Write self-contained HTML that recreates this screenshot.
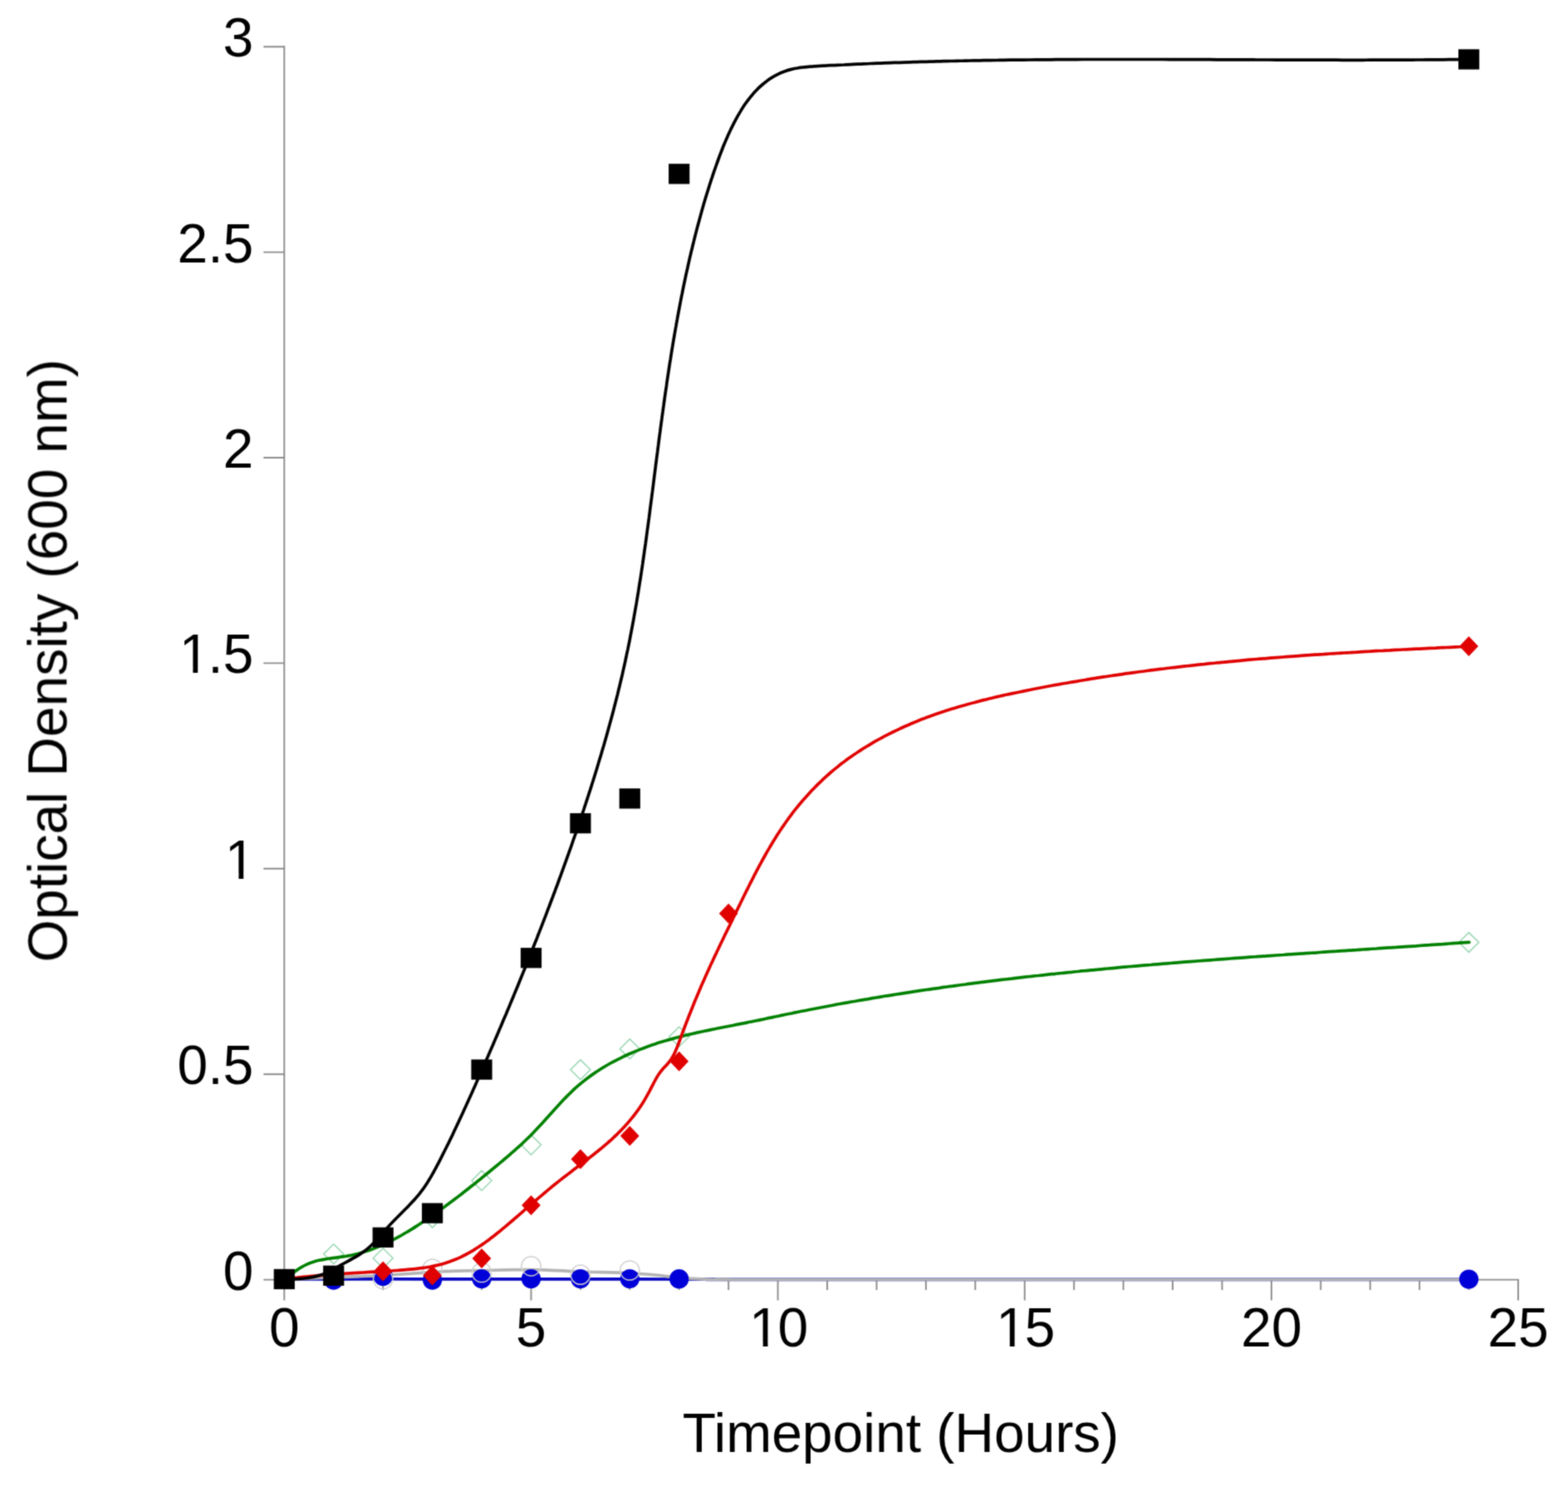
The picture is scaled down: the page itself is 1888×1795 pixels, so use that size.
<!DOCTYPE html>
<html lang="en">
<head>
<meta charset="utf-8">
<title>Optical Density vs Timepoint</title>
<style>
html,body{margin:0;padding:0;background:#fff;}
body{width:1888px;height:1795px;overflow:hidden;}
svg{display:block;}
text{font-family:"Liberation Sans",Arial,Helvetica,sans-serif;fill:#000;}
.tick{font-size:66px;}
.title{font-size:66px;}
.ax{stroke:#8a8a8a;stroke-width:1.9;fill:none;}
.ln{fill:none;stroke-width:3.7;stroke-linecap:round;stroke-linejoin:round;}
</style>
</head>
<body>
<svg xmlns="http://www.w3.org/2000/svg" width="1888" height="1795" viewBox="0 0 1888 1795">
<rect x="0" y="0" width="1888" height="1795" fill="#ffffff"/>
<defs><filter id="b" x="0" y="0" width="1888" height="1795" filterUnits="userSpaceOnUse" color-interpolation-filters="sRGB"><feConvolveMatrix order="3" kernelMatrix="0.0400 0.1200 0.0400 0.1200 0.3600 0.1200 0.0400 0.1200 0.0400" divisor="1" edgeMode="duplicate" preserveAlpha="false"/></filter></defs>
<g filter="url(#b)">
<g class="ax">
<path d="M342.3,55.2 V1565.6"/>
<path d="M317.3,1540.6 H1829.0"/>
<path d="M317.3,1293.2 H342.3 M317.3,1045.8 H342.3 M317.3,798.4 H342.3 M317.3,551.0 H342.3 M317.3,303.6 H342.3 M317.3,56.2 H342.3"/>
<path d="M401.7,1540.6 V1553.1 M461.2,1540.6 V1553.1 M520.6,1540.6 V1553.1 M580.0,1540.6 V1553.1 M639.5,1540.6 V1565.6 M698.9,1540.6 V1553.1 M758.3,1540.6 V1553.1 M817.7,1540.6 V1553.1 M877.2,1540.6 V1553.1 M936.6,1540.6 V1565.6 M996.0,1540.6 V1553.1 M1055.5,1540.6 V1553.1 M1114.9,1540.6 V1553.1 M1174.3,1540.6 V1553.1 M1233.8,1540.6 V1565.6 M1293.2,1540.6 V1553.1 M1352.6,1540.6 V1553.1 M1412.0,1540.6 V1553.1 M1471.5,1540.6 V1553.1 M1530.9,1540.6 V1565.6 M1590.3,1540.6 V1553.1 M1649.8,1540.6 V1553.1 M1709.2,1540.6 V1553.1 M1768.6,1540.6 V1553.1 M1828.0,1540.6 V1565.6"/>
</g>
<g>
<path class="ln" stroke="#0808c8" stroke-width="3.9" d="M342.3,1540.2 C362.0,1540.1 381.7,1539.8 401.4,1539.8 C540.1,1539.7 678.8,1539.9 817.5,1540.0 C831.7,1540.0 845.8,1540.1 860.0,1540.2"/>
</g>
<g>
<path class="ln" stroke="#0808c8" stroke-width="2.2" d="M850.0,1540.3 C966.7,1540.3 1083.3,1540.3 1200.0,1540.3 C1389.7,1540.3 1579.3,1540.3 1769.0,1540.3"/>
</g>
<g>
<path class="ln" stroke="#b4b4b4" stroke-width="3.4" d="M342.3,1540.3 C362.0,1539.5 381.7,1538.6 401.4,1537.8 C410.9,1537.4 420.5,1537.2 430.0,1536.8 C440.5,1536.4 451.1,1536.1 461.6,1535.5 C481.4,1534.3 501.2,1532.7 521.0,1531.5 C530.7,1530.9 540.3,1530.5 550.0,1530.2 C560.2,1529.9 570.4,1529.7 580.6,1529.5 C593.7,1529.2 606.9,1528.8 620.0,1528.7 C631.7,1528.6 643.3,1528.5 655.0,1528.8 C669.7,1529.2 684.3,1530.5 699.0,1531.0 C718.7,1531.7 738.4,1531.7 758.1,1532.6 C768.8,1533.1 779.4,1534.0 790.0,1535.0 C799.2,1535.9 808.3,1537.5 817.5,1538.3 C828.3,1539.2 839.2,1539.8 850.0,1540.2 C860.0,1540.6 870.0,1540.4 880.0,1540.5"/>
</g>
<g>
<path class="ln" stroke="#b0b0b0" stroke-width="4.0" d="M870.0,1540.5 C980.0,1540.5 1090.0,1540.5 1200.0,1540.5 C1389.7,1540.5 1579.3,1540.5 1769.0,1540.5"/>
</g>
<g>
<circle cx="401.7" cy="1541.0" r="11.6" fill="#0000d8"/>
<circle cx="461.2" cy="1536.5" r="11.6" fill="#0000d8"/>
<circle cx="520.6" cy="1541.0" r="11.6" fill="#0000d8"/>
<circle cx="580.0" cy="1539.5" r="11.6" fill="#0000d8"/>
<circle cx="639.5" cy="1539.5" r="11.6" fill="#0000d8"/>
<circle cx="698.9" cy="1539.5" r="11.6" fill="#0000d8"/>
<circle cx="758.3" cy="1539.5" r="11.6" fill="#0000d8"/>
<circle cx="817.7" cy="1539.7" r="11.6" fill="#0000d8"/>
<circle cx="1768.6" cy="1540.0" r="11.6" fill="#0000d8"/>
</g>
<g>
<circle cx="461.2" cy="1540.0" r="11.6" fill="none" stroke="#cfcfcf" stroke-width="1.5"/>
<circle cx="520.6" cy="1527.7" r="11.6" fill="none" stroke="#cfcfcf" stroke-width="1.5"/>
<circle cx="580.0" cy="1532.0" r="11.6" fill="none" stroke="#cfcfcf" stroke-width="1.5"/>
<circle cx="639.5" cy="1524.3" r="11.6" fill="none" stroke="#cfcfcf" stroke-width="1.5"/>
<circle cx="698.9" cy="1534.7" r="11.6" fill="none" stroke="#cfcfcf" stroke-width="1.5"/>
<circle cx="758.3" cy="1529.5" r="11.6" fill="none" stroke="#cfcfcf" stroke-width="1.5"/>
</g>
<g>
<path d="M401.7,1497.7 L413.7,1509.6 L401.7,1521.5 L389.7,1509.6 Z" fill="none" stroke="#98d6b2" stroke-width="1.5"/>
<path d="M461.2,1502.8 L473.2,1514.7 L461.2,1526.6 L449.2,1514.7 Z" fill="none" stroke="#98d6b2" stroke-width="1.5"/>
<path d="M520.6,1454.1 L532.6,1466.0 L520.6,1477.9 L508.6,1466.0 Z" fill="none" stroke="#98d6b2" stroke-width="1.5"/>
<path d="M580.0,1409.4 L592.0,1421.3 L580.0,1433.2 L568.0,1421.3 Z" fill="none" stroke="#98d6b2" stroke-width="1.5"/>
<path d="M639.5,1366.4 L651.5,1378.3 L639.5,1390.2 L627.5,1378.3 Z" fill="none" stroke="#98d6b2" stroke-width="1.5"/>
<path d="M698.9,1275.9 L710.9,1287.8 L698.9,1299.7 L686.9,1287.8 Z" fill="none" stroke="#98d6b2" stroke-width="1.5"/>
<path d="M758.3,1250.9 L770.3,1262.8 L758.3,1274.7 L746.3,1262.8 Z" fill="none" stroke="#98d6b2" stroke-width="1.5"/>
<path d="M817.7,1236.2 L829.7,1248.1 L817.7,1260.0 L805.7,1248.1 Z" fill="none" stroke="#98d6b2" stroke-width="1.5"/>
<path d="M1768.6,1122.6 L1780.6,1134.5 L1768.6,1146.4 L1756.6,1134.5 Z" fill="none" stroke="#98d6b2" stroke-width="1.5"/>
</g>
<g>
<path class="ln" stroke="#008000" stroke-width="3.7" d="M342.3,1540.0 C344.5,1538.4 346.6,1536.9 348.8,1535.3 C350.9,1533.7 353.1,1532.1 355.3,1530.6 C357.5,1529.1 359.7,1527.5 362.0,1526.2 C364.3,1524.8 366.6,1523.5 369.0,1522.4 C371.4,1521.3 373.9,1520.3 376.4,1519.5 C378.9,1518.6 381.4,1517.9 384.0,1517.3 C386.6,1516.7 389.2,1516.2 391.9,1515.8 C394.5,1515.3 397.2,1515.0 399.8,1514.6 C402.5,1514.3 405.1,1514.0 407.8,1513.6 C410.5,1513.3 413.1,1512.9 415.8,1512.5 C418.4,1512.1 421.0,1511.6 423.6,1511.1 C426.2,1510.5 428.8,1509.9 431.4,1509.2 C433.9,1508.6 436.5,1507.8 439.0,1507.0 C441.5,1506.2 444.1,1505.4 446.5,1504.5 C449.0,1503.6 451.5,1502.6 454.0,1501.6 C456.4,1500.6 458.9,1499.5 461.3,1498.4 C463.7,1497.4 466.1,1496.2 468.5,1495.0 C470.9,1493.9 473.3,1492.6 475.6,1491.4 C478.0,1490.1 480.4,1488.8 482.7,1487.5 C485.0,1486.2 487.3,1484.8 489.6,1483.5 C491.9,1482.1 494.2,1480.7 496.5,1479.3 C498.8,1477.9 501.1,1476.4 503.3,1475.0 C505.6,1473.5 507.8,1472.0 510.0,1470.5 C512.3,1469.0 514.5,1467.5 516.7,1466.0 C518.9,1464.5 521.1,1463.0 523.3,1461.4 C525.5,1459.9 527.7,1458.4 529.8,1456.8 C532.0,1455.3 534.2,1453.7 536.3,1452.1 C538.5,1450.5 540.6,1448.9 542.7,1447.3 C544.9,1445.8 547.0,1444.1 549.1,1442.5 C551.2,1440.9 553.3,1439.3 555.4,1437.7 C557.6,1436.0 559.7,1434.4 561.7,1432.8 C563.8,1431.1 565.9,1429.5 568.0,1427.8 C570.1,1426.2 572.2,1424.5 574.2,1422.8 C576.3,1421.2 578.4,1419.5 580.4,1417.8 C582.5,1416.2 584.5,1414.5 586.6,1412.8 C588.7,1411.1 590.7,1409.4 592.8,1407.7 C594.8,1406.0 596.8,1404.4 598.9,1402.7 C600.9,1401.0 603.0,1399.3 605.0,1397.6 C607.0,1395.8 609.1,1394.1 611.1,1392.4 C613.1,1390.7 615.1,1388.9 617.1,1387.2 C619.1,1385.4 621.1,1383.7 623.1,1381.9 C625.0,1380.1 627.0,1378.3 629.0,1376.5 C630.9,1374.7 632.8,1372.9 634.7,1371.0 C636.7,1369.1 638.6,1367.3 640.4,1365.4 C642.3,1363.4 644.2,1361.5 646.0,1359.6 C647.8,1357.6 649.7,1355.6 651.5,1353.7 C653.3,1351.7 655.1,1349.7 656.9,1347.7 C658.7,1345.7 660.5,1343.7 662.3,1341.7 C664.1,1339.7 665.9,1337.7 667.7,1335.7 C669.5,1333.7 671.3,1331.7 673.2,1329.7 C675.0,1327.7 676.8,1325.8 678.7,1323.8 C680.5,1321.9 682.4,1320.0 684.3,1318.1 C686.2,1316.2 688.1,1314.4 690.0,1312.5 C692.0,1310.7 694.0,1308.9 696.0,1307.2 C698.0,1305.5 700.0,1303.7 702.1,1302.1 C704.1,1300.4 706.2,1298.8 708.4,1297.2 C710.5,1295.6 712.6,1294.1 714.8,1292.6 C717.0,1291.1 719.2,1289.6 721.4,1288.2 C723.7,1286.7 725.9,1285.4 728.2,1284.0 C730.5,1282.6 732.8,1281.3 735.1,1280.0 C737.5,1278.7 739.8,1277.5 742.2,1276.3 C744.6,1275.0 746.9,1273.9 749.4,1272.7 C751.8,1271.5 754.2,1270.4 756.6,1269.3 C759.1,1268.2 761.5,1267.2 764.0,1266.1 C766.5,1265.1 768.9,1264.1 771.4,1263.1 C773.9,1262.2 776.4,1261.2 779.0,1260.3 C781.5,1259.4 784.0,1258.5 786.6,1257.6 C789.1,1256.8 791.6,1255.9 794.2,1255.1 C796.7,1254.3 799.3,1253.5 801.9,1252.8 C804.4,1252.0 807.0,1251.3 809.6,1250.6 C812.2,1249.9 814.7,1249.2 817.3,1248.5 C819.9,1247.8 822.5,1247.2 825.1,1246.5 C827.7,1245.9 830.2,1245.3 832.8,1244.7 C835.4,1244.1 838.0,1243.5 840.6,1242.9 C843.2,1242.4 845.8,1241.8 848.4,1241.2 C851.0,1240.7 853.6,1240.2 856.2,1239.6 C858.8,1239.1 861.4,1238.6 864.1,1238.0 C866.7,1237.5 869.3,1237.0 871.9,1236.5 C874.5,1236.0 877.1,1235.5 879.7,1235.0 C882.3,1234.5 884.9,1233.9 887.5,1233.4 C890.2,1232.9 892.8,1232.4 895.4,1231.9 C898.0,1231.4 900.6,1230.8 903.2,1230.3 C905.8,1229.8 908.4,1229.2 911.0,1228.7 C913.7,1228.2 916.3,1227.6 918.9,1227.1 C921.5,1226.5 924.1,1226.0 926.7,1225.4 C929.3,1224.9 931.9,1224.3 934.5,1223.8 C937.1,1223.2 939.8,1222.7 942.4,1222.1 C945.0,1221.6 947.6,1221.0 950.2,1220.5 C952.8,1220.0 955.4,1219.4 958.0,1218.9 C960.7,1218.4 963.3,1217.8 965.9,1217.3 C968.5,1216.8 971.1,1216.3 973.7,1215.7 C976.3,1215.2 979.0,1214.7 981.6,1214.2 C984.2,1213.7 986.8,1213.2 989.4,1212.7 C992.1,1212.2 994.7,1211.7 997.3,1211.2 C999.9,1210.7 1002.5,1210.2 1005.2,1209.7 C1007.8,1209.3 1010.4,1208.8 1013.0,1208.3 C1015.6,1207.8 1018.3,1207.3 1020.9,1206.9 C1023.5,1206.4 1026.1,1205.9 1028.8,1205.5 C1031.4,1205.0 1034.0,1204.6 1036.6,1204.1 C1039.3,1203.7 1041.9,1203.2 1044.5,1202.8 C1047.1,1202.3 1049.8,1201.9 1052.4,1201.4 C1055.0,1201.0 1057.7,1200.6 1060.3,1200.1 C1062.9,1199.7 1065.5,1199.3 1068.2,1198.8 C1070.8,1198.4 1073.4,1198.0 1076.1,1197.6 C1078.7,1197.2 1081.3,1196.7 1084.0,1196.3 C1086.6,1195.9 1089.2,1195.5 1091.9,1195.1 C1094.5,1194.7 1097.1,1194.3 1099.8,1193.9 C1102.4,1193.5 1105.0,1193.1 1107.7,1192.7 C1110.3,1192.3 1112.9,1191.9 1115.6,1191.5 C1118.2,1191.2 1120.9,1190.8 1123.5,1190.4 C1126.1,1190.0 1128.8,1189.6 1131.4,1189.3 C1134.1,1188.9 1136.7,1188.5 1139.3,1188.2 C1142.0,1187.8 1144.6,1187.4 1147.2,1187.1 C1149.9,1186.7 1152.5,1186.4 1155.2,1186.0 C1157.8,1185.7 1160.5,1185.3 1163.1,1185.0 C1165.7,1184.6 1168.4,1184.3 1171.0,1183.9 C1173.7,1183.6 1176.3,1183.2 1179.0,1182.9 C1181.6,1182.6 1184.2,1182.2 1186.9,1181.9 C1189.5,1181.6 1192.2,1181.2 1194.8,1180.9 C1197.5,1180.6 1200.1,1180.3 1202.8,1179.9 C1205.4,1179.6 1208.1,1179.3 1210.7,1179.0 C1213.4,1178.7 1216.0,1178.4 1218.6,1178.1 C1221.3,1177.7 1223.9,1177.4 1226.6,1177.1 C1229.2,1176.8 1231.9,1176.5 1234.5,1176.2 C1237.2,1175.9 1239.8,1175.6 1242.5,1175.3 C1245.1,1175.0 1247.8,1174.7 1250.4,1174.5 C1253.1,1174.2 1255.7,1173.9 1258.4,1173.6 C1261.0,1173.3 1263.7,1173.0 1266.3,1172.7 C1269.0,1172.5 1271.6,1172.2 1274.3,1171.9 C1277.0,1171.6 1279.6,1171.4 1282.3,1171.1 C1284.9,1170.8 1287.6,1170.5 1290.2,1170.3 C1292.9,1170.0 1295.5,1169.7 1298.2,1169.5 C1300.8,1169.2 1303.5,1168.9 1306.1,1168.7 C1308.8,1168.4 1311.5,1168.2 1314.1,1167.9 C1316.8,1167.7 1319.4,1167.4 1322.1,1167.2 C1324.7,1166.9 1327.4,1166.7 1330.0,1166.4 C1332.7,1166.2 1335.4,1165.9 1338.0,1165.7 C1340.7,1165.4 1343.3,1165.2 1346.0,1164.9 C1348.6,1164.7 1351.3,1164.5 1354.0,1164.2 C1356.6,1164.0 1359.3,1163.8 1361.9,1163.5 C1364.6,1163.3 1367.3,1163.1 1369.9,1162.8 C1372.6,1162.6 1375.2,1162.4 1377.9,1162.1 C1380.5,1161.9 1383.2,1161.7 1385.9,1161.5 C1388.5,1161.2 1391.2,1161.0 1393.8,1160.8 C1396.5,1160.6 1399.2,1160.4 1401.8,1160.1 C1404.5,1159.9 1407.1,1159.7 1409.8,1159.5 C1412.5,1159.3 1415.1,1159.1 1417.8,1158.8 C1420.4,1158.6 1423.1,1158.4 1425.8,1158.2 C1428.4,1158.0 1431.1,1157.8 1433.7,1157.6 C1436.4,1157.4 1439.1,1157.2 1441.7,1157.0 C1444.4,1156.8 1447.1,1156.6 1449.7,1156.4 C1452.4,1156.2 1455.0,1156.0 1457.7,1155.8 C1460.4,1155.6 1463.0,1155.4 1465.7,1155.2 C1468.3,1155.0 1471.0,1154.8 1473.7,1154.6 C1476.3,1154.4 1479.0,1154.2 1481.7,1154.0 C1484.3,1153.8 1487.0,1153.6 1489.6,1153.4 C1492.3,1153.2 1495.0,1153.0 1497.6,1152.8 C1500.3,1152.6 1503.0,1152.4 1505.6,1152.2 C1508.3,1152.1 1510.9,1151.9 1513.6,1151.7 C1516.3,1151.5 1518.9,1151.3 1521.6,1151.1 C1524.3,1150.9 1526.9,1150.8 1529.6,1150.6 C1532.2,1150.4 1534.9,1150.2 1537.6,1150.0 C1540.2,1149.8 1542.9,1149.6 1545.6,1149.5 C1548.2,1149.3 1550.9,1149.1 1553.5,1148.9 C1556.2,1148.7 1558.9,1148.6 1561.5,1148.4 C1564.2,1148.2 1566.9,1148.0 1569.5,1147.8 C1572.2,1147.7 1574.8,1147.5 1577.5,1147.3 C1580.2,1147.1 1582.8,1146.9 1585.5,1146.8 C1588.2,1146.6 1590.8,1146.4 1593.5,1146.2 C1596.1,1146.0 1598.8,1145.9 1601.5,1145.7 C1604.1,1145.5 1606.8,1145.3 1609.5,1145.2 C1612.1,1145.0 1614.8,1144.8 1617.4,1144.6 C1620.1,1144.4 1622.8,1144.3 1625.4,1144.1 C1628.1,1143.9 1630.7,1143.7 1633.4,1143.6 C1636.1,1143.4 1638.7,1143.2 1641.4,1143.0 C1644.1,1142.9 1646.7,1142.7 1649.4,1142.5 C1652.0,1142.3 1654.7,1142.1 1657.4,1142.0 C1660.0,1141.8 1662.7,1141.6 1665.3,1141.4 C1668.0,1141.3 1670.7,1141.1 1673.3,1140.9 C1676.0,1140.7 1678.6,1140.5 1681.3,1140.4 C1684.0,1140.2 1686.6,1140.0 1689.3,1139.8 C1691.9,1139.7 1694.6,1139.5 1697.3,1139.3 C1699.9,1139.1 1702.6,1138.9 1705.2,1138.8 C1707.9,1138.6 1710.5,1138.4 1713.2,1138.2 C1715.9,1138.0 1718.5,1137.8 1721.2,1137.7 C1723.8,1137.5 1726.5,1137.3 1729.2,1137.1 C1731.8,1136.9 1734.5,1136.7 1737.1,1136.6 C1739.8,1136.4 1742.4,1136.2 1745.1,1136.0 C1747.8,1135.8 1750.4,1135.6 1753.1,1135.4 C1755.7,1135.2 1758.4,1135.1 1761.0,1134.9 C1763.7,1134.7 1766.3,1134.5 1769.0,1134.3"/>
</g>
<g>
<path d="M461.2,1518.4 L472.6,1530.4 L461.2,1542.4 L449.8,1530.4 Z" fill="#e00000"/>
<path d="M520.6,1523.5 L532.0,1535.5 L520.6,1547.5 L509.2,1535.5 Z" fill="#e00000"/>
<path d="M580.0,1503.1 L591.4,1515.1 L580.0,1527.1 L568.6,1515.1 Z" fill="#e00000"/>
<path d="M639.5,1439.1 L650.9,1451.1 L639.5,1463.1 L628.1,1451.1 Z" fill="#e00000"/>
<path d="M698.9,1383.5 L710.3,1395.5 L698.9,1407.5 L687.5,1395.5 Z" fill="#e00000"/>
<path d="M758.3,1355.5 L769.7,1367.5 L758.3,1379.5 L746.9,1367.5 Z" fill="#e00000"/>
<path d="M817.7,1265.7 L829.1,1277.7 L817.7,1289.7 L806.3,1277.7 Z" fill="#e00000"/>
<path d="M877.2,1087.7 L888.6,1099.7 L877.2,1111.7 L865.8,1099.7 Z" fill="#e00000"/>
<path d="M1768.6,766.0 L1780.0,778.0 L1768.6,790.0 L1757.2,778.0 Z" fill="#e00000"/>
</g>
<g>
<path class="ln" stroke="#e00000" stroke-width="3.7" d="M342.3,1540.0 C345.0,1539.7 347.7,1539.3 350.4,1539.0 C353.1,1538.6 355.7,1538.3 358.4,1538.0 C361.1,1537.7 363.7,1537.5 366.4,1537.2 C369.1,1536.9 371.7,1536.7 374.4,1536.4 C377.0,1536.2 379.7,1535.9 382.3,1535.7 C384.9,1535.5 387.6,1535.2 390.2,1535.0 C392.9,1534.8 395.5,1534.6 398.1,1534.4 C400.8,1534.2 403.4,1534.0 406.0,1533.9 C408.7,1533.7 411.3,1533.5 413.9,1533.3 C416.6,1533.2 419.2,1533.0 421.8,1532.8 C424.5,1532.7 427.1,1532.5 429.7,1532.3 C432.4,1532.2 435.0,1532.0 437.7,1531.9 C440.3,1531.7 443.0,1531.6 445.6,1531.4 C448.3,1531.3 450.9,1531.1 453.6,1531.0 C456.2,1530.8 458.9,1530.6 461.6,1530.5 C464.2,1530.3 466.9,1530.2 469.6,1530.0 C472.3,1529.8 475.0,1529.7 477.7,1529.5 C480.4,1529.3 483.1,1529.1 485.8,1528.9 C488.5,1528.7 491.2,1528.5 493.9,1528.2 C496.6,1528.0 499.3,1527.7 502.0,1527.4 C504.7,1527.1 507.3,1526.7 510.0,1526.3 C512.7,1526.0 515.3,1525.5 517.9,1525.1 C520.6,1524.6 523.2,1524.0 525.8,1523.4 C528.4,1522.9 530.9,1522.2 533.5,1521.5 C536.0,1520.8 538.5,1520.0 541.0,1519.1 C543.5,1518.2 545.9,1517.3 548.3,1516.3 C550.8,1515.3 553.2,1514.2 555.5,1513.1 C557.9,1511.9 560.2,1510.7 562.5,1509.5 C564.8,1508.2 567.1,1506.9 569.4,1505.6 C571.6,1504.2 573.9,1502.8 576.1,1501.3 C578.3,1499.9 580.5,1498.4 582.7,1496.9 C584.8,1495.3 587.0,1493.8 589.1,1492.2 C591.3,1490.6 593.4,1488.9 595.5,1487.3 C597.6,1485.6 599.7,1483.9 601.8,1482.3 C603.9,1480.6 605.9,1478.8 608.0,1477.1 C610.1,1475.4 612.1,1473.7 614.1,1471.9 C616.2,1470.2 618.2,1468.4 620.2,1466.7 C622.3,1464.9 624.3,1463.2 626.3,1461.4 C628.3,1459.7 630.3,1457.9 632.3,1456.2 C634.3,1454.5 636.3,1452.7 638.4,1451.0 C640.4,1449.2 642.4,1447.5 644.4,1445.8 C646.4,1444.0 648.4,1442.3 650.4,1440.6 C652.4,1438.9 654.5,1437.2 656.5,1435.5 C658.5,1433.7 660.6,1432.1 662.6,1430.4 C664.6,1428.7 666.7,1427.0 668.8,1425.3 C670.8,1423.7 672.9,1422.0 675.0,1420.4 C677.1,1418.7 679.2,1417.1 681.3,1415.5 C683.4,1413.9 685.5,1412.3 687.6,1410.7 C689.7,1409.0 691.8,1407.4 694.0,1405.8 C696.1,1404.2 698.2,1402.6 700.3,1401.0 C702.5,1399.4 704.6,1397.8 706.7,1396.2 C708.8,1394.5 710.9,1392.9 713.0,1391.3 C715.1,1389.6 717.2,1388.0 719.3,1386.3 C721.3,1384.6 723.4,1383.0 725.4,1381.3 C727.5,1379.6 729.5,1377.8 731.5,1376.1 C733.5,1374.3 735.5,1372.6 737.4,1370.8 C739.4,1369.0 741.3,1367.1 743.2,1365.3 C745.1,1363.4 747.0,1361.5 748.9,1359.6 C750.7,1357.7 752.5,1355.7 754.3,1353.7 C756.1,1351.7 757.8,1349.7 759.5,1347.6 C761.2,1345.6 762.9,1343.5 764.5,1341.3 C766.1,1339.2 767.7,1337.0 769.3,1334.8 C770.8,1332.7 772.3,1330.4 773.7,1328.2 C775.1,1325.9 776.5,1323.6 777.8,1321.3 C779.2,1319.0 780.4,1316.7 781.7,1314.3 C783.0,1312.0 784.2,1309.6 785.4,1307.2 C786.7,1304.8 787.8,1302.4 789.1,1300.1 C790.4,1297.7 791.7,1295.4 793.2,1293.2 C794.7,1291.1 796.3,1289.0 798.0,1287.0 C799.7,1285.0 801.7,1283.3 803.4,1281.3 C805.1,1279.3 806.7,1277.3 808.2,1275.1 C809.6,1272.9 810.8,1270.6 812.0,1268.3 C813.2,1265.9 814.2,1263.5 815.2,1261.0 C816.3,1258.5 817.2,1256.0 818.1,1253.5 C819.1,1250.9 820.0,1248.4 820.9,1245.9 C821.8,1243.3 822.8,1240.8 823.7,1238.3 C824.7,1235.8 825.6,1233.2 826.6,1230.7 C827.6,1228.2 828.6,1225.7 829.5,1223.2 C830.5,1220.7 831.5,1218.2 832.5,1215.7 C833.5,1213.2 834.5,1210.7 835.5,1208.2 C836.5,1205.8 837.5,1203.3 838.6,1200.8 C839.6,1198.3 840.6,1195.9 841.7,1193.4 C842.7,1191.0 843.8,1188.5 844.8,1186.0 C845.9,1183.6 847.0,1181.2 848.1,1178.7 C849.1,1176.3 850.2,1173.9 851.3,1171.4 C852.4,1169.0 853.5,1166.6 854.6,1164.2 C855.7,1161.7 856.9,1159.3 858.0,1156.9 C859.1,1154.5 860.2,1152.1 861.4,1149.7 C862.5,1147.3 863.6,1144.9 864.8,1142.5 C865.9,1140.1 867.1,1137.7 868.2,1135.3 C869.4,1132.9 870.5,1130.5 871.7,1128.1 C872.8,1125.7 874.0,1123.3 875.2,1120.9 C876.3,1118.5 877.5,1116.2 878.7,1113.8 C879.8,1111.4 881.0,1109.0 882.2,1106.6 C883.3,1104.2 884.5,1101.8 885.7,1099.4 C886.8,1097.0 888.0,1094.6 889.2,1092.2 C890.4,1089.8 891.5,1087.4 892.7,1085.0 C893.9,1082.6 895.1,1080.2 896.2,1077.8 C897.4,1075.4 898.6,1073.0 899.8,1070.6 C901.0,1068.2 902.2,1065.8 903.4,1063.4 C904.6,1061.1 905.8,1058.7 907.0,1056.3 C908.2,1053.9 909.5,1051.5 910.7,1049.2 C911.9,1046.8 913.2,1044.4 914.4,1042.1 C915.7,1039.7 917.0,1037.4 918.3,1035.0 C919.6,1032.7 920.9,1030.4 922.2,1028.0 C923.5,1025.7 924.8,1023.4 926.2,1021.1 C927.5,1018.8 928.9,1016.5 930.3,1014.2 C931.6,1011.9 933.0,1009.7 934.5,1007.4 C935.9,1005.2 937.3,1002.9 938.8,1000.7 C940.3,998.5 941.7,996.3 943.3,994.1 C944.8,991.9 946.3,989.7 947.9,987.5 C949.4,985.3 951.0,983.2 952.6,981.1 C954.2,978.9 955.8,976.8 957.5,974.7 C959.2,972.6 960.8,970.6 962.5,968.5 C964.2,966.5 966.0,964.4 967.7,962.4 C969.5,960.4 971.3,958.4 973.1,956.4 C974.9,954.5 976.7,952.5 978.5,950.6 C980.4,948.7 982.2,946.8 984.1,944.9 C986.0,943.0 988.0,941.1 989.9,939.3 C991.8,937.5 993.8,935.7 995.8,933.9 C997.8,932.1 999.8,930.4 1001.8,928.6 C1003.8,926.9 1005.9,925.2 1008.0,923.6 C1010.1,921.9 1012.1,920.2 1014.3,918.6 C1016.4,917.0 1018.5,915.4 1020.7,913.8 C1022.8,912.3 1025.0,910.7 1027.2,909.2 C1029.4,907.7 1031.6,906.2 1033.9,904.7 C1036.1,903.3 1038.3,901.8 1040.6,900.4 C1042.9,899.0 1045.1,897.6 1047.4,896.3 C1049.7,894.9 1052.0,893.5 1054.4,892.2 C1056.7,890.9 1059.0,889.6 1061.4,888.3 C1063.7,887.1 1066.1,885.8 1068.5,884.6 C1070.9,883.4 1073.3,882.2 1075.7,881.0 C1078.1,879.8 1080.5,878.7 1082.9,877.6 C1085.3,876.4 1087.8,875.3 1090.2,874.2 C1092.6,873.2 1095.1,872.1 1097.6,871.0 C1100.0,870.0 1102.5,869.0 1105.0,868.0 C1107.4,867.0 1109.9,866.0 1112.4,865.1 C1114.9,864.1 1117.4,863.2 1119.9,862.3 C1122.4,861.4 1124.9,860.5 1127.4,859.6 C1129.9,858.7 1132.5,857.9 1135.0,857.0 C1137.5,856.2 1140.0,855.4 1142.6,854.5 C1145.1,853.7 1147.7,853.0 1150.2,852.2 C1152.8,851.4 1155.3,850.7 1157.9,849.9 C1160.4,849.2 1163.0,848.5 1165.6,847.7 C1168.1,847.0 1170.7,846.3 1173.3,845.7 C1175.9,845.0 1178.5,844.3 1181.0,843.6 C1183.6,843.0 1186.2,842.3 1188.8,841.7 C1191.4,841.1 1194.0,840.4 1196.6,839.8 C1199.2,839.2 1201.8,838.6 1204.4,838.0 C1207.0,837.4 1209.6,836.9 1212.2,836.3 C1214.8,835.7 1217.4,835.2 1220.1,834.6 C1222.7,834.0 1225.3,833.5 1227.9,833.0 C1230.5,832.4 1233.1,831.9 1235.7,831.4 C1238.4,830.8 1241.0,830.3 1243.6,829.8 C1246.2,829.3 1248.8,828.8 1251.5,828.3 C1254.1,827.8 1256.7,827.3 1259.3,826.8 C1262.0,826.3 1264.6,825.8 1267.2,825.3 C1269.8,824.8 1272.5,824.3 1275.1,823.9 C1277.7,823.4 1280.3,822.9 1283.0,822.5 C1285.6,822.0 1288.2,821.6 1290.9,821.1 C1293.5,820.6 1296.1,820.2 1298.8,819.8 C1301.4,819.3 1304.0,818.9 1306.7,818.5 C1309.3,818.0 1311.9,817.6 1314.6,817.2 C1317.2,816.8 1319.8,816.3 1322.5,815.9 C1325.1,815.5 1327.7,815.1 1330.4,814.7 C1333.0,814.3 1335.6,813.9 1338.3,813.5 C1340.9,813.1 1343.6,812.7 1346.2,812.4 C1348.8,812.0 1351.5,811.6 1354.1,811.2 C1356.8,810.8 1359.4,810.5 1362.0,810.1 C1364.7,809.7 1367.3,809.4 1370.0,809.0 C1372.6,808.7 1375.3,808.3 1377.9,808.0 C1380.6,807.6 1383.2,807.3 1385.8,806.9 C1388.5,806.6 1391.1,806.3 1393.8,805.9 C1396.4,805.6 1399.1,805.3 1401.7,805.0 C1404.4,804.6 1407.0,804.3 1409.7,804.0 C1412.3,803.7 1415.0,803.4 1417.6,803.1 C1420.3,802.8 1422.9,802.5 1425.6,802.2 C1428.2,801.9 1430.9,801.6 1433.5,801.3 C1436.2,801.0 1438.8,800.7 1441.5,800.4 C1444.1,800.1 1446.8,799.8 1449.5,799.6 C1452.1,799.3 1454.8,799.0 1457.4,798.7 C1460.1,798.5 1462.7,798.2 1465.4,797.9 C1468.0,797.7 1470.7,797.4 1473.4,797.2 C1476.0,796.9 1478.7,796.7 1481.3,796.4 C1484.0,796.2 1486.6,795.9 1489.3,795.7 C1492.0,795.4 1494.6,795.2 1497.3,794.9 C1499.9,794.7 1502.6,794.5 1505.2,794.2 C1507.9,794.0 1510.6,793.8 1513.2,793.5 C1515.9,793.3 1518.5,793.1 1521.2,792.9 C1523.9,792.7 1526.5,792.4 1529.2,792.2 C1531.9,792.0 1534.5,791.8 1537.2,791.6 C1539.8,791.4 1542.5,791.2 1545.2,791.0 C1547.8,790.8 1550.5,790.6 1553.1,790.4 C1555.8,790.2 1558.5,790.0 1561.1,789.8 C1563.8,789.6 1566.5,789.4 1569.1,789.2 C1571.8,789.0 1574.5,788.8 1577.1,788.6 C1579.8,788.5 1582.4,788.3 1585.1,788.1 C1587.8,787.9 1590.4,787.7 1593.1,787.6 C1595.8,787.4 1598.4,787.2 1601.1,787.0 C1603.8,786.9 1606.4,786.7 1609.1,786.5 C1611.8,786.4 1614.4,786.2 1617.1,786.0 C1619.8,785.9 1622.4,785.7 1625.1,785.6 C1627.8,785.4 1630.4,785.2 1633.1,785.1 C1635.7,784.9 1638.4,784.8 1641.1,784.6 C1643.7,784.5 1646.4,784.3 1649.1,784.2 C1651.7,784.0 1654.4,783.9 1657.1,783.7 C1659.7,783.6 1662.4,783.4 1665.1,783.3 C1667.7,783.1 1670.4,783.0 1673.1,782.9 C1675.7,782.7 1678.4,782.6 1681.1,782.4 C1683.7,782.3 1686.4,782.2 1689.1,782.0 C1691.7,781.9 1694.4,781.8 1697.1,781.6 C1699.7,781.5 1702.4,781.4 1705.1,781.2 C1707.7,781.1 1710.4,781.0 1713.1,780.8 C1715.7,780.7 1718.4,780.6 1721.0,780.4 C1723.7,780.3 1726.4,780.2 1729.0,780.1 C1731.7,779.9 1734.4,779.8 1737.0,779.7 C1739.7,779.6 1742.4,779.4 1745.0,779.3 C1747.7,779.2 1750.4,779.1 1753.0,778.9 C1755.7,778.8 1758.3,778.7 1761.0,778.6 C1763.7,778.4 1766.3,778.3 1769.0,778.2"/>
</g>
<g>
<path class="ln" stroke="#000000" stroke-width="3.7" d="M342.3,1540.0 C345.0,1540.0 347.6,1540.0 350.3,1539.9 C353.0,1539.9 355.7,1539.8 358.4,1539.6 C361.1,1539.5 363.8,1539.3 366.4,1539.0 C369.1,1538.7 371.8,1538.3 374.4,1537.9 C377.0,1537.4 379.7,1536.8 382.2,1536.1 C384.8,1535.4 387.3,1534.6 389.8,1533.7 C392.2,1532.7 394.6,1531.6 397.0,1530.5 C399.4,1529.3 401.7,1528.0 404.0,1526.7 C406.3,1525.4 408.6,1524.1 411.0,1522.7 C413.3,1521.4 415.7,1520.1 418.0,1518.8 C420.4,1517.5 422.8,1516.2 425.1,1514.9 C427.5,1513.6 429.8,1512.2 432.1,1510.8 C434.3,1509.4 436.5,1507.9 438.7,1506.3 C440.8,1504.8 442.8,1503.1 444.8,1501.3 C446.8,1499.6 448.6,1497.7 450.5,1495.8 C452.3,1493.9 454.1,1491.9 455.9,1489.9 C457.7,1488.0 459.4,1485.9 461.2,1483.9 C462.9,1481.9 464.7,1479.9 466.5,1477.9 C468.3,1475.9 470.1,1473.9 472.0,1472.0 C473.8,1470.0 475.7,1468.1 477.6,1466.2 C479.5,1464.3 481.4,1462.4 483.3,1460.5 C485.2,1458.6 487.1,1456.7 489.0,1454.8 C490.8,1452.9 492.7,1451.0 494.5,1449.1 C496.4,1447.1 498.2,1445.2 499.9,1443.2 C501.7,1441.2 503.4,1439.2 505.1,1437.1 C506.7,1435.0 508.3,1432.9 509.9,1430.8 C511.4,1428.6 512.9,1426.4 514.3,1424.2 C515.8,1422.0 517.1,1419.7 518.5,1417.4 C519.8,1415.1 521.1,1412.8 522.4,1410.5 C523.7,1408.1 525.0,1405.8 526.2,1403.4 C527.5,1401.0 528.7,1398.7 529.9,1396.3 C531.1,1393.9 532.3,1391.5 533.5,1389.1 C534.7,1386.8 535.9,1384.4 537.1,1382.0 C538.3,1379.6 539.5,1377.2 540.7,1374.8 C541.8,1372.4 543.0,1370.0 544.2,1367.6 C545.3,1365.2 546.5,1362.8 547.6,1360.3 C548.8,1357.9 549.9,1355.5 551.0,1353.1 C552.2,1350.7 553.3,1348.3 554.4,1345.8 C555.6,1343.4 556.7,1341.0 557.8,1338.6 C558.9,1336.1 560.0,1333.7 561.1,1331.3 C562.2,1328.8 563.3,1326.4 564.4,1324.0 C565.5,1321.5 566.6,1319.1 567.7,1316.7 C568.8,1314.2 569.9,1311.8 571.0,1309.3 C572.1,1306.9 573.1,1304.5 574.2,1302.0 C575.3,1299.6 576.4,1297.1 577.5,1294.7 C578.5,1292.2 579.6,1289.8 580.7,1287.3 C581.8,1284.9 582.8,1282.5 583.9,1280.0 C585.0,1277.6 586.0,1275.1 587.1,1272.7 C588.2,1270.2 589.2,1267.8 590.3,1265.3 C591.3,1262.9 592.4,1260.4 593.5,1258.0 C594.5,1255.5 595.6,1253.1 596.6,1250.6 C597.7,1248.2 598.7,1245.7 599.8,1243.3 C600.8,1240.8 601.9,1238.4 602.9,1235.9 C604.0,1233.4 605.0,1231.0 606.0,1228.5 C607.1,1226.1 608.1,1223.6 609.2,1221.2 C610.2,1218.7 611.2,1216.2 612.3,1213.8 C613.3,1211.3 614.3,1208.9 615.3,1206.4 C616.4,1203.9 617.4,1201.5 618.4,1199.0 C619.4,1196.6 620.4,1194.1 621.5,1191.6 C622.5,1189.2 623.5,1186.7 624.5,1184.2 C625.5,1181.8 626.5,1179.3 627.5,1176.8 C628.5,1174.3 629.5,1171.9 630.5,1169.4 C631.5,1166.9 632.5,1164.5 633.5,1162.0 C634.5,1159.5 635.5,1157.0 636.5,1154.6 C637.5,1152.1 638.5,1149.6 639.5,1147.1 C640.5,1144.7 641.5,1142.2 642.4,1139.7 C643.4,1137.2 644.4,1134.7 645.4,1132.3 C646.4,1129.8 647.3,1127.3 648.3,1124.8 C649.3,1122.3 650.2,1119.8 651.2,1117.4 C652.2,1114.9 653.1,1112.4 654.1,1109.9 C655.0,1107.4 656.0,1104.9 657.0,1102.4 C657.9,1099.9 658.9,1097.4 659.8,1094.9 C660.8,1092.4 661.7,1090.0 662.6,1087.5 C663.6,1085.0 664.5,1082.5 665.5,1080.0 C666.4,1077.5 667.3,1075.0 668.3,1072.5 C669.2,1070.0 670.1,1067.5 671.1,1065.0 C672.0,1062.5 672.9,1060.0 673.8,1057.5 C674.7,1054.9 675.7,1052.4 676.6,1049.9 C677.5,1047.4 678.4,1044.9 679.3,1042.4 C680.2,1039.9 681.1,1037.4 682.0,1034.9 C682.9,1032.3 683.8,1029.8 684.7,1027.3 C685.6,1024.8 686.5,1022.3 687.4,1019.8 C688.3,1017.2 689.2,1014.7 690.0,1012.2 C690.9,1009.7 691.8,1007.2 692.7,1004.6 C693.5,1002.1 694.4,999.6 695.3,997.1 C696.1,994.5 697.0,992.0 697.9,989.5 C698.7,986.9 699.6,984.4 700.4,981.9 C701.3,979.3 702.1,976.8 703.0,974.3 C703.8,971.7 704.7,969.2 705.5,966.7 C706.3,964.1 707.2,961.6 708.0,959.0 C708.8,956.5 709.6,954.0 710.5,951.4 C711.3,948.9 712.1,946.3 712.9,943.8 C713.7,941.2 714.5,938.7 715.3,936.1 C716.1,933.6 716.9,931.0 717.7,928.5 C718.5,925.9 719.3,923.4 720.0,920.8 C720.8,918.2 721.6,915.7 722.3,913.1 C723.1,910.6 723.9,908.0 724.6,905.4 C725.4,902.9 726.1,900.3 726.9,897.8 C727.6,895.2 728.4,892.6 729.1,890.1 C729.8,887.5 730.6,884.9 731.3,882.3 C732.0,879.8 732.7,877.2 733.4,874.6 C734.1,872.1 734.8,869.5 735.5,866.9 C736.2,864.3 736.9,861.7 737.6,859.2 C738.3,856.6 739.0,854.0 739.6,851.4 C740.3,848.8 741.0,846.3 741.6,843.7 C742.3,841.1 742.9,838.5 743.6,835.9 C744.2,833.3 744.8,830.7 745.5,828.1 C746.1,825.5 746.7,822.9 747.3,820.4 C747.9,817.8 748.6,815.2 749.2,812.6 C749.8,810.0 750.3,807.4 750.9,804.8 C751.5,802.2 752.1,799.6 752.7,796.9 C753.2,794.3 753.8,791.7 754.3,789.1 C754.9,786.5 755.4,783.9 756.0,781.3 C756.5,778.7 757.1,776.1 757.6,773.5 C758.1,770.9 758.6,768.2 759.1,765.6 C759.6,763.0 760.1,760.4 760.6,757.8 C761.1,755.1 761.6,752.5 762.1,749.9 C762.6,747.3 763.1,744.7 763.5,742.0 C764.0,739.4 764.5,736.8 764.9,734.1 C765.4,731.5 765.8,728.9 766.3,726.3 C766.7,723.6 767.2,721.0 767.6,718.4 C768.0,715.7 768.5,713.1 768.9,710.5 C769.3,707.8 769.7,705.2 770.1,702.6 C770.6,699.9 771.0,697.3 771.4,694.7 C771.8,692.0 772.2,689.4 772.6,686.7 C773.0,684.1 773.4,681.5 773.8,678.8 C774.1,676.2 774.5,673.5 774.9,670.9 C775.3,668.3 775.7,665.6 776.0,663.0 C776.4,660.3 776.8,657.7 777.2,655.0 C777.5,652.4 777.9,649.7 778.3,647.1 C778.6,644.4 779.0,641.8 779.3,639.1 C779.7,636.5 780.1,633.9 780.4,631.2 C780.8,628.6 781.1,625.9 781.5,623.3 C781.8,620.6 782.2,618.0 782.5,615.3 C782.8,612.7 783.2,610.0 783.5,607.4 C783.9,604.7 784.2,602.0 784.6,599.4 C784.9,596.7 785.2,594.1 785.6,591.4 C785.9,588.8 786.3,586.1 786.6,583.5 C786.9,580.8 787.3,578.2 787.6,575.5 C787.9,572.9 788.3,570.2 788.6,567.6 C789.0,564.9 789.3,562.3 789.6,559.6 C790.0,557.0 790.3,554.3 790.6,551.7 C791.0,549.0 791.3,546.3 791.7,543.7 C792.0,541.0 792.3,538.4 792.7,535.7 C793.0,533.1 793.4,530.4 793.7,527.8 C794.1,525.1 794.4,522.5 794.8,519.8 C795.1,517.2 795.5,514.5 795.8,511.9 C796.2,509.2 796.5,506.6 796.9,503.9 C797.2,501.3 797.6,498.6 798.0,496.0 C798.3,493.3 798.7,490.7 799.1,488.0 C799.4,485.4 799.8,482.7 800.2,480.1 C800.5,477.4 800.9,474.8 801.3,472.2 C801.7,469.5 802.1,466.9 802.5,464.2 C802.8,461.6 803.2,458.9 803.6,456.3 C804.0,453.6 804.4,451.0 804.8,448.4 C805.2,445.7 805.6,443.1 806.0,440.4 C806.4,437.8 806.8,435.2 807.3,432.5 C807.7,429.9 808.1,427.2 808.5,424.6 C808.9,422.0 809.4,419.3 809.8,416.7 C810.2,414.1 810.7,411.4 811.1,408.8 C811.6,406.2 812.0,403.5 812.5,400.9 C812.9,398.3 813.4,395.7 813.9,393.0 C814.3,390.4 814.8,387.8 815.3,385.1 C815.7,382.5 816.2,379.9 816.7,377.3 C817.2,374.7 817.7,372.0 818.2,369.4 C818.7,366.8 819.2,364.2 819.7,361.5 C820.2,358.9 820.7,356.3 821.3,353.7 C821.8,351.1 822.3,348.5 822.8,345.9 C823.4,343.2 823.9,340.6 824.5,338.0 C825.0,335.4 825.6,332.8 826.1,330.2 C826.7,327.6 827.3,325.0 827.9,322.4 C828.4,319.8 829.0,317.2 829.6,314.6 C830.2,312.0 830.8,309.4 831.4,306.8 C832.0,304.2 832.6,301.6 833.3,299.0 C833.9,296.4 834.5,293.8 835.2,291.2 C835.8,288.6 836.5,286.1 837.1,283.5 C837.8,280.9 838.4,278.3 839.1,275.7 C839.8,273.1 840.5,270.6 841.2,268.0 C841.9,265.4 842.6,262.8 843.3,260.2 C844.0,257.7 844.7,255.1 845.4,252.5 C846.2,250.0 846.9,247.4 847.6,244.8 C848.4,242.3 849.2,239.7 849.9,237.1 C850.7,234.6 851.5,232.0 852.3,229.5 C853.1,226.9 853.9,224.4 854.7,221.8 C855.5,219.3 856.3,216.7 857.2,214.2 C858.0,211.7 858.9,209.1 859.7,206.6 C860.6,204.1 861.5,201.6 862.4,199.0 C863.3,196.5 864.2,194.0 865.1,191.5 C866.0,189.0 866.9,186.5 867.9,184.0 C868.9,181.5 869.8,179.0 870.8,176.5 C871.8,174.1 872.9,171.6 873.9,169.1 C875.0,166.7 876.0,164.2 877.1,161.8 C878.2,159.4 879.4,157.0 880.5,154.6 C881.7,152.2 882.9,149.8 884.1,147.4 C885.4,145.0 886.6,142.7 887.9,140.3 C889.3,138.0 890.6,135.7 892.0,133.4 C893.4,131.1 894.8,128.9 896.3,126.6 C897.8,124.4 899.4,122.2 901.0,120.1 C902.6,118.0 904.2,115.9 906.0,113.9 C907.7,111.8 909.5,109.9 911.4,108.0 C913.2,106.1 915.2,104.2 917.2,102.5 C919.2,100.7 921.3,99.0 923.5,97.4 C925.6,95.8 927.9,94.3 930.2,92.9 C932.5,91.6 934.8,90.3 937.2,89.1 C939.6,87.9 942.1,86.9 944.6,86.0 C947.1,85.1 949.6,84.3 952.2,83.6 C954.8,83.0 957.4,82.4 960.0,82.0 C962.6,81.5 965.2,81.2 967.9,80.9 C970.6,80.5 973.2,80.3 975.9,80.1 C978.6,79.9 981.3,79.8 984.0,79.6 C986.7,79.4 989.4,79.3 992.0,79.2 C994.7,79.0 997.4,78.9 1000.1,78.7 C1002.8,78.6 1005.5,78.5 1008.1,78.3 C1010.8,78.2 1013.5,78.1 1016.2,78.0 C1018.8,77.8 1021.5,77.7 1024.2,77.6 C1026.9,77.5 1029.5,77.3 1032.2,77.2 C1034.9,77.1 1037.5,77.0 1040.2,76.9 C1042.9,76.8 1045.5,76.7 1048.2,76.5 C1050.9,76.4 1053.5,76.3 1056.2,76.2 C1058.9,76.1 1061.5,76.0 1064.2,75.9 C1066.8,75.8 1069.5,75.7 1072.2,75.6 C1074.8,75.5 1077.5,75.4 1080.1,75.3 C1082.8,75.3 1085.5,75.2 1088.1,75.1 C1090.8,75.0 1093.5,74.9 1096.1,74.8 C1098.8,74.7 1101.4,74.7 1104.1,74.6 C1106.8,74.5 1109.4,74.4 1112.1,74.3 C1114.8,74.3 1117.4,74.2 1120.1,74.1 C1122.8,74.1 1125.4,74.0 1128.1,73.9 C1130.8,73.8 1133.4,73.8 1136.1,73.7 C1138.7,73.6 1141.4,73.6 1144.1,73.5 C1146.7,73.5 1149.4,73.4 1152.1,73.3 C1154.7,73.3 1157.4,73.2 1160.1,73.2 C1162.7,73.1 1165.4,73.1 1168.1,73.0 C1170.7,73.0 1173.4,72.9 1176.1,72.9 C1178.7,72.8 1181.4,72.8 1184.1,72.7 C1186.8,72.7 1189.4,72.6 1192.1,72.6 C1194.8,72.5 1197.4,72.5 1200.1,72.5 C1202.8,72.4 1205.4,72.4 1208.1,72.3 C1210.8,72.3 1213.4,72.3 1216.1,72.2 C1218.8,72.2 1221.5,72.2 1224.1,72.1 C1226.8,72.1 1229.5,72.1 1232.1,72.1 C1234.8,72.0 1237.5,72.0 1240.1,72.0 C1242.8,71.9 1245.5,71.9 1248.2,71.9 C1250.8,71.9 1253.5,71.8 1256.2,71.8 C1258.8,71.8 1261.5,71.8 1264.2,71.8 C1266.9,71.7 1269.5,71.7 1272.2,71.7 C1274.9,71.7 1277.5,71.7 1280.2,71.7 C1282.9,71.6 1285.6,71.6 1288.2,71.6 C1290.9,71.6 1293.6,71.6 1296.2,71.6 C1298.9,71.6 1301.6,71.6 1304.3,71.5 C1306.9,71.5 1309.6,71.5 1312.3,71.5 C1315.0,71.5 1317.6,71.5 1320.3,71.5 C1323.0,71.5 1325.7,71.5 1328.3,71.5 C1331.0,71.5 1333.7,71.5 1336.3,71.5 C1339.0,71.5 1341.7,71.5 1344.4,71.5 C1347.0,71.5 1349.7,71.5 1352.4,71.5 C1355.1,71.5 1357.7,71.5 1360.4,71.5 C1363.1,71.5 1365.8,71.5 1368.4,71.5 C1371.1,71.5 1373.8,71.5 1376.4,71.5 C1379.1,71.5 1381.8,71.5 1384.5,71.5 C1387.1,71.5 1389.8,71.5 1392.5,71.5 C1395.2,71.5 1397.8,71.5 1400.5,71.5 C1403.2,71.5 1405.9,71.5 1408.5,71.6 C1411.2,71.6 1413.9,71.6 1416.6,71.6 C1419.2,71.6 1421.9,71.6 1424.6,71.6 C1427.3,71.6 1429.9,71.6 1432.6,71.6 C1435.3,71.6 1438.0,71.6 1440.6,71.7 C1443.3,71.7 1446.0,71.7 1448.7,71.7 C1451.3,71.7 1454.0,71.7 1456.7,71.7 C1459.3,71.7 1462.0,71.7 1464.7,71.8 C1467.4,71.8 1470.0,71.8 1472.7,71.8 C1475.4,71.8 1478.1,71.8 1480.7,71.8 C1483.4,71.8 1486.1,71.8 1488.8,71.9 C1491.4,71.9 1494.1,71.9 1496.8,71.9 C1499.5,71.9 1502.1,71.9 1504.8,71.9 C1507.5,71.9 1510.2,72.0 1512.8,72.0 C1515.5,72.0 1518.2,72.0 1520.8,72.0 C1523.5,72.0 1526.2,72.0 1528.9,72.0 C1531.5,72.0 1534.2,72.0 1536.9,72.1 C1539.6,72.1 1542.2,72.1 1544.9,72.1 C1547.6,72.1 1550.2,72.1 1552.9,72.1 C1555.6,72.1 1558.3,72.1 1560.9,72.1 C1563.6,72.2 1566.3,72.2 1569.0,72.2 C1571.6,72.2 1574.3,72.2 1577.0,72.2 C1579.6,72.2 1582.3,72.2 1585.0,72.2 C1587.7,72.2 1590.3,72.2 1593.0,72.2 C1595.7,72.2 1598.3,72.2 1601.0,72.2 C1603.7,72.2 1606.3,72.2 1609.0,72.2 C1611.7,72.3 1614.4,72.3 1617.0,72.3 C1619.7,72.3 1622.4,72.3 1625.0,72.3 C1627.7,72.3 1630.4,72.3 1633.0,72.3 C1635.7,72.3 1638.4,72.3 1641.1,72.3 C1643.7,72.3 1646.4,72.2 1649.1,72.2 C1651.7,72.2 1654.4,72.2 1657.1,72.2 C1659.7,72.2 1662.4,72.2 1665.1,72.2 C1667.7,72.2 1670.4,72.2 1673.1,72.2 C1675.7,72.2 1678.4,72.2 1681.1,72.2 C1683.7,72.1 1686.4,72.1 1689.1,72.1 C1691.7,72.1 1694.4,72.1 1697.1,72.1 C1699.7,72.1 1702.4,72.0 1705.1,72.0 C1707.7,72.0 1710.4,72.0 1713.1,72.0 C1715.7,72.0 1718.4,71.9 1721.1,71.9 C1723.7,71.9 1726.4,71.9 1729.1,71.8 C1731.7,71.8 1734.4,71.8 1737.1,71.8 C1739.7,71.7 1742.4,71.7 1745.0,71.7 C1747.7,71.7 1750.4,71.6 1753.0,71.6 C1755.7,71.6 1758.4,71.5 1761.0,71.5 C1763.7,71.5 1766.3,71.4 1769.0,71.4"/>
</g>
<g>
<rect x="329.7" y="1527.8" width="25.2" height="24.3" fill="#000000"/>
<rect x="389.1" y="1523.6" width="25.2" height="24.3" fill="#000000"/>
<rect x="448.6" y="1477.6" width="25.2" height="24.3" fill="#000000"/>
<rect x="508.0" y="1448.4" width="25.2" height="24.3" fill="#000000"/>
<rect x="567.4" y="1275.5" width="25.2" height="24.3" fill="#000000"/>
<rect x="626.9" y="1141.1" width="25.2" height="24.3" fill="#000000"/>
<rect x="686.3" y="979.0" width="25.2" height="24.3" fill="#000000"/>
<rect x="745.7" y="949.2" width="25.2" height="24.3" fill="#000000"/>
<rect x="805.1" y="197.2" width="25.2" height="24.3" fill="#000000"/>
<rect x="1756.0" y="59.3" width="25.2" height="24.3" fill="#000000"/>
</g>
</g>
<g filter="url(#b)">
<text class="tick" x="268.59" y="1552.60">0</text>
<text class="tick" x="213.55" y="1305.20">0.5</text>
<text class="tick" x="268.59" y="1057.80"><tspan dx="2.20">1</tspan></text>
<rect x="274.32" y="1051.87" width="13.07" height="7.43" fill="#fff"/>
<rect x="293.22" y="1051.87" width="12.55" height="7.43" fill="#fff"/>
<text class="tick" x="213.55" y="810.40"><tspan dx="2.20">1</tspan><tspan dx="-2.20">.5</tspan></text>
<rect x="219.28" y="804.47" width="13.07" height="7.43" fill="#fff"/>
<rect x="238.18" y="804.47" width="12.55" height="7.43" fill="#fff"/>
<text class="tick" x="268.59" y="563.00">2</text>
<text class="tick" x="213.55" y="315.60">2.5</text>
<text class="tick" x="268.59" y="68.20">3</text>
<text class="tick" x="323.95" y="1621.40">0</text>
<text class="tick" x="621.10" y="1621.40">5</text>
<text class="tick" x="899.89" y="1621.40"><tspan dx="2.20">1</tspan><tspan dx="-2.20">0</tspan></text>
<rect x="905.62" y="1615.47" width="13.07" height="7.43" fill="#fff"/>
<rect x="924.52" y="1615.47" width="12.55" height="7.43" fill="#fff"/>
<text class="tick" x="1197.04" y="1621.40"><tspan dx="2.20">1</tspan><tspan dx="-2.20">5</tspan></text>
<rect x="1202.77" y="1615.47" width="13.07" height="7.43" fill="#fff"/>
<rect x="1221.67" y="1615.47" width="12.55" height="7.43" fill="#fff"/>
<text class="tick" x="1494.19" y="1621.40">20</text>
<text class="tick" x="1791.34" y="1621.40">25</text>
<text class="title" x="1084.5" y="1748.3" text-anchor="middle">Timepoint (Hours)</text>
<text class="title" transform="translate(80.2,795.5) rotate(-90)" text-anchor="middle">Optical Density (600 nm)</text>
</g>
</svg>
</body>
</html>
